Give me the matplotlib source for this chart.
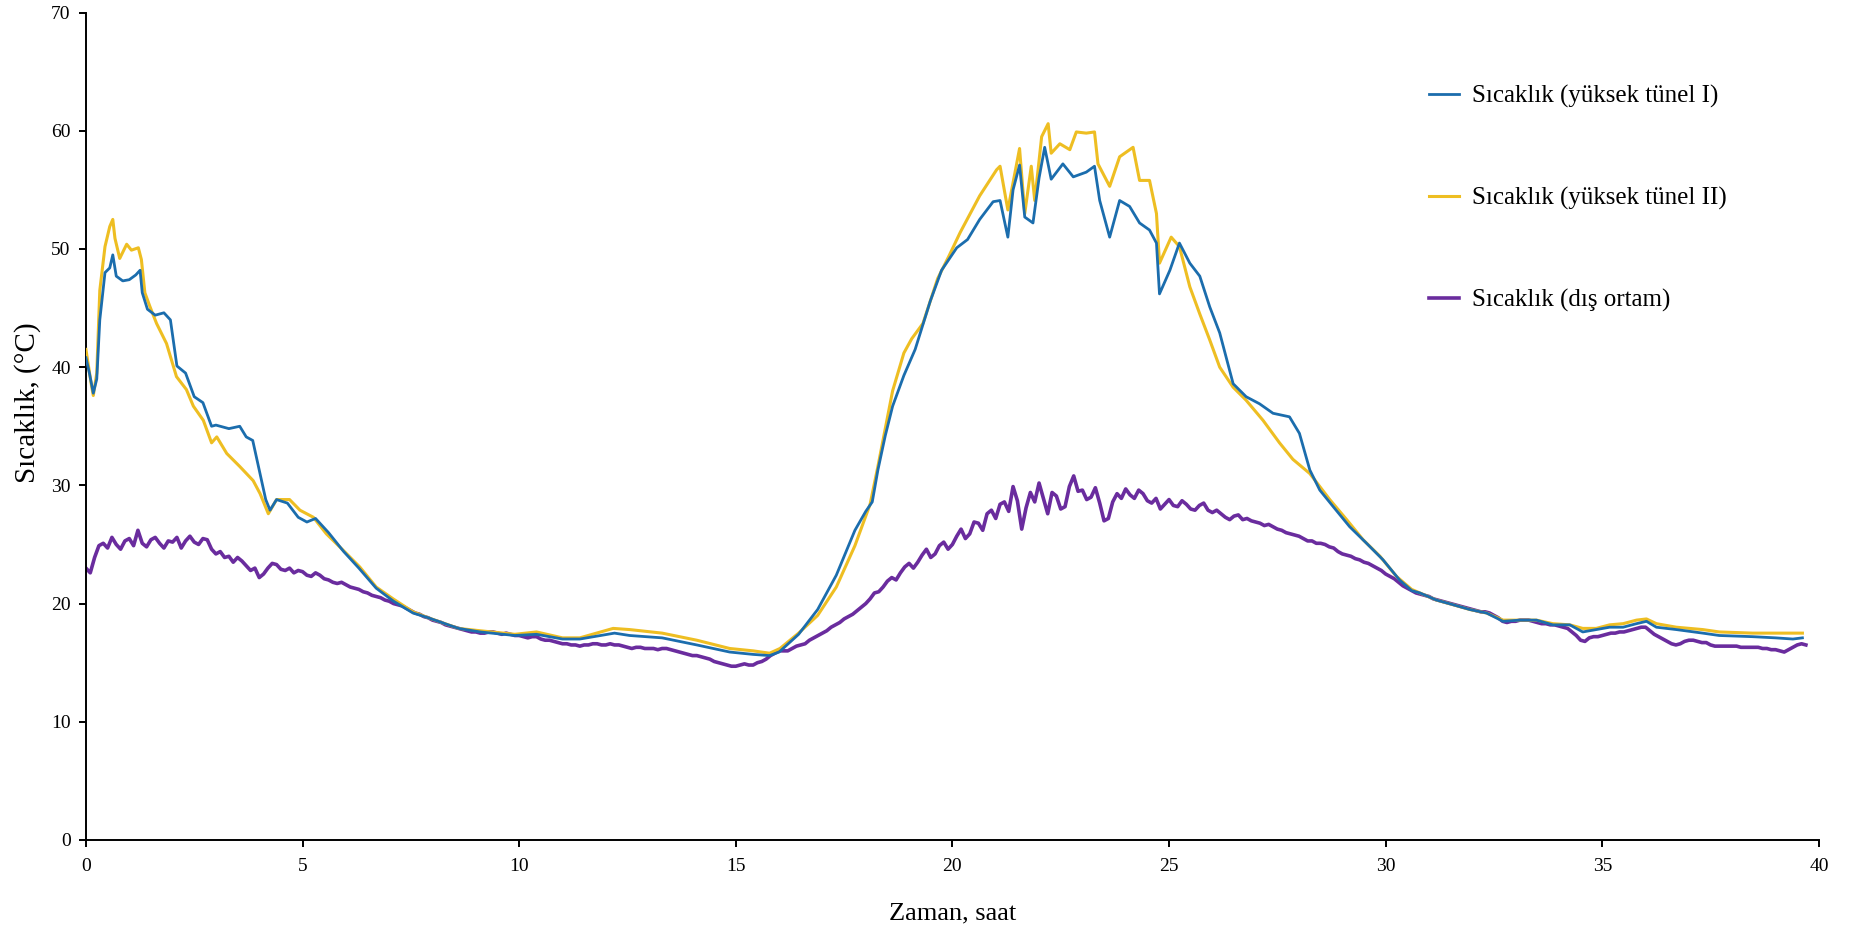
import numpy as np
import matplotlib
matplotlib.use("Agg")
import matplotlib.pyplot as plt

plt.rcParams["font.family"] = ["Liberation Serif", "DejaVu Serif"]

# Sıcaklık (yüksek tünel I)
saat_t1 = [0.0, 0.08, 0.17, 0.25, 0.32, 0.44, 0.55, 0.62, 0.7, 0.85, 1.0, 1.15, 1.25, 1.3, 1.42,
           1.6, 1.8, 1.95, 2.1, 2.3, 2.5, 2.7, 2.9, 3.0, 3.3, 3.55, 3.7, 3.85, 4.0, 4.15, 4.25,
           4.4, 4.65, 4.9, 5.1, 5.3, 5.6, 5.95, 6.3, 6.7, 7.1, 7.55, 7.9, 8.6, 9.1, 9.9, 10.4,
           11.0, 11.4, 12.2, 12.55, 13.3, 14.1, 14.86, 15.4, 15.78, 16.0, 16.45, 16.89, 17.32,
           17.75, 18.0, 18.15, 18.28, 18.45, 18.62, 18.88, 19.14, 19.49, 19.75, 20.1, 20.35,
           20.63, 20.94, 21.1, 21.28, 21.4, 21.55, 21.67, 21.86, 22.0, 22.13, 22.28, 22.55,
           22.79, 23.09, 23.28, 23.4, 23.63, 23.86, 24.09, 24.32, 24.55, 24.71, 24.78, 25.02,
           25.24, 25.48, 25.71, 25.94, 26.17, 26.48, 26.78, 27.09, 27.4, 27.78, 28.01, 28.25,
           28.48, 28.79, 29.17, 29.56, 29.94, 30.32, 30.6, 30.79, 31.17, 31.56, 31.94, 32.33,
           32.71, 33.1, 33.48, 33.86, 34.25, 34.55, 34.86, 35.17, 35.48, 35.79, 36.02, 36.25,
           36.71, 37.32, 37.7, 38.47, 39.0, 39.4, 39.62]
sic_t1 = [40.8, 39.5, 37.8, 39.0, 44.0, 48.0, 48.4, 49.5, 47.7, 47.3, 47.4, 47.8, 48.2, 46.3, 44.9,
          44.4, 44.6, 44.0, 40.1, 39.5, 37.5, 37.0, 35.0, 35.1, 34.8, 35.0, 34.1, 33.8, 31.3, 28.8, 27.9,
          28.8, 28.5, 27.3, 26.9, 27.2, 26.0, 24.4, 23.0, 21.3, 20.2, 19.2, 18.8, 17.9, 17.6, 17.3, 17.4,
          17.0, 17.0, 17.5, 17.3, 17.1, 16.5, 15.9, 15.7, 15.6, 15.9, 17.4, 19.5, 22.4,
          26.2, 27.8, 28.6, 31.3, 34.2, 36.7, 39.3, 41.5, 45.6, 48.2, 50.1, 50.8,
          52.5, 54.0, 54.1, 51.0, 55.0, 57.1, 52.7, 52.2, 56.0, 58.6, 55.9, 57.2,
          56.1, 56.5, 57.0, 54.1, 51.0, 54.1, 53.6, 52.2, 51.6, 50.5, 46.2, 48.2,
          50.5, 48.8, 47.7, 45.1, 42.9, 38.6, 37.5, 36.9, 36.1, 35.8, 34.4, 31.3,
          29.6, 28.2, 26.5, 25.1, 23.7, 22.0, 21.1, 20.9, 20.3, 19.9, 19.5, 19.2,
          18.5, 18.6, 18.6, 18.2, 18.2, 17.6, 17.8, 18.0, 18.0, 18.3, 18.5, 18.0,
          17.8, 17.5, 17.3, 17.2, 17.1, 17.0, 17.1]

# Sıcaklık (yüksek tünel II)
saat_t2 = [0.0, 0.13, 0.17, 0.25, 0.32, 0.44, 0.55, 0.62, 0.67, 0.78, 0.94, 1.05, 1.21, 1.28, 1.36,
           1.48, 1.63, 1.86, 2.09, 2.32, 2.48, 2.71, 2.9, 3.02, 3.25, 3.55, 3.86, 4.02, 4.21, 4.4,
           4.7, 4.94, 5.25, 5.55, 5.94, 6.32, 6.7, 7.09, 7.55, 7.9, 8.6, 9.1, 9.9, 10.4, 11.0,
           11.4, 12.17, 12.55, 13.3, 14.1, 14.86, 15.4, 15.78, 16.02, 16.45, 16.89, 17.32, 17.75,
           18.1, 18.28, 18.45, 18.62, 18.88, 19.06, 19.32, 19.66, 19.92, 20.18, 20.63, 21.02,
           21.1, 21.28, 21.55, 21.67, 21.82, 21.9, 22.06, 22.21, 22.28, 22.48, 22.71, 22.86,
           23.09, 23.28, 23.36, 23.63, 23.86, 24.17, 24.32, 24.55, 24.71, 24.78, 25.05, 25.24,
           25.48, 25.71, 25.94, 26.17, 26.48, 26.78, 27.17, 27.55, 27.86, 28.25, 28.71, 29.1,
           29.48, 29.87, 30.25, 30.6, 30.79, 31.17, 31.56, 31.94, 32.33, 32.71, 33.1, 33.48,
           33.86, 34.25, 34.55, 34.86, 35.17, 35.48, 35.79, 36.02, 36.25, 36.71, 37.32, 37.7,
           38.47, 39.0, 39.62]
sic_t2 = [41.5, 38.4, 37.6, 39.5, 46.5, 50.2, 51.9, 52.5, 50.9, 49.2, 50.4, 49.9, 50.1, 49.1, 46.3,
          45.1, 43.7, 42.0, 39.2, 38.1, 36.7, 35.5, 33.6, 34.1, 32.7, 31.6, 30.4, 29.3, 27.6, 28.8,
          28.8, 27.9, 27.3, 25.9, 24.5, 23.1, 21.4, 20.4, 19.3, 18.8, 17.9, 17.7, 17.4, 17.6, 17.1,
          17.1, 17.9, 17.8, 17.5, 16.9, 16.2, 16.0, 15.8, 16.2, 17.5, 19.0, 21.4, 24.9,
          28.4, 31.6, 34.8, 38.0, 41.2, 42.4, 43.7, 47.5, 49.4, 51.4, 54.5, 56.7,
          57.0, 53.3, 58.5, 53.0, 57.0, 54.1, 59.5, 60.6, 58.1, 58.9, 58.4, 59.9,
          59.8, 59.9, 57.2, 55.3, 57.8, 58.6, 55.8, 55.8, 53.0, 48.8, 51.0, 50.2,
          46.8, 44.5, 42.3, 40.0, 38.3, 37.2, 35.5, 33.6, 32.2, 31.0, 28.8, 27.1,
          25.4, 24.0, 22.3, 21.2, 20.9, 20.3, 19.9, 19.5, 19.2, 18.6, 18.6, 18.6,
          18.3, 18.2, 17.9, 17.9, 18.2, 18.3, 18.6, 18.7, 18.3, 18.0, 17.8, 17.6,
          17.5, 17.5, 17.5]

# Sıcaklık (dış ortam), 0.1 saatte bir okuma, 0 - 39.7 saat
sic_dis = [
    23.0, 22.6, 23.9, 24.9, 25.1, 24.7, 25.6, 25.0, 24.6, 25.3,
    25.5, 24.9, 26.2, 25.1, 24.8, 25.4, 25.6, 25.1, 24.7, 25.3,
    25.2, 25.6, 24.7, 25.3, 25.7, 25.2, 25.0, 25.5, 25.4, 24.6,
    24.2, 24.4, 23.9, 24.0, 23.5, 23.9, 23.6, 23.2, 22.8, 23.0,
    22.2, 22.5, 23.0, 23.4, 23.3, 22.9, 22.8, 23.0, 22.6, 22.8,
    22.7, 22.4, 22.3, 22.6, 22.4, 22.1, 22.0, 21.8, 21.7, 21.8,
    21.6, 21.4, 21.3, 21.2, 21.0, 20.9, 20.7, 20.6, 20.5, 20.3,
    20.2, 20.0, 19.9, 19.8, 19.6, 19.4, 19.2, 19.1, 18.9, 18.8,
    18.6, 18.5, 18.4, 18.2, 18.1, 18.0, 17.9, 17.8, 17.7, 17.6,
    17.6, 17.5, 17.5, 17.6, 17.6, 17.5, 17.4, 17.5, 17.4, 17.3,
    17.3, 17.2, 17.1, 17.2, 17.2, 17.0, 16.9, 16.9, 16.8, 16.7,
    16.6, 16.6, 16.5, 16.5, 16.4, 16.5, 16.5, 16.6, 16.6, 16.5,
    16.5, 16.6, 16.5, 16.5, 16.4, 16.3, 16.2, 16.3, 16.3, 16.2,
    16.2, 16.2, 16.1, 16.2, 16.2, 16.1, 16.0, 15.9, 15.8, 15.7,
    15.6, 15.6, 15.5, 15.4, 15.3, 15.1, 15.0, 14.9, 14.8, 14.7,
    14.7, 14.8, 14.9, 14.8, 14.8, 15.0, 15.1, 15.3, 15.6, 15.8,
    16.0, 16.0, 16.0, 16.2, 16.4, 16.5, 16.6, 16.9, 17.1, 17.3,
    17.5, 17.7, 18.0, 18.2, 18.4, 18.7, 18.9, 19.1, 19.4, 19.7,
    20.0, 20.4, 20.9, 21.0, 21.4, 21.9, 22.2, 22.0, 22.6, 23.1,
    23.4, 23.0, 23.5, 24.1, 24.6, 23.9, 24.2, 24.9, 25.2, 24.6,
    25.0, 25.7, 26.3, 25.5, 25.9, 26.9, 26.8, 26.2, 27.6, 27.9,
    27.2, 28.4, 28.6, 27.8, 29.9, 28.7, 26.3, 28.1, 29.4, 28.6,
    30.2, 28.9, 27.6, 29.4, 29.1, 28.0, 28.2, 29.9, 30.8, 29.5,
    29.6, 28.8, 29.0, 29.8, 28.5, 27.0, 27.2, 28.6, 29.3, 28.9,
    29.7, 29.2, 28.9, 29.6, 29.3, 28.7, 28.5, 28.9, 28.0, 28.4,
    28.8, 28.3, 28.2, 28.7, 28.4, 28.0, 27.9, 28.3, 28.5, 27.9,
    27.7, 27.9, 27.6, 27.3, 27.1, 27.4, 27.5, 27.1, 27.2, 27.0,
    26.9, 26.8, 26.6, 26.7, 26.5, 26.3, 26.2, 26.0, 25.9, 25.8,
    25.7, 25.5, 25.3, 25.3, 25.1, 25.1, 25.0, 24.8, 24.7, 24.4,
    24.2, 24.1, 24.0, 23.8, 23.7, 23.5, 23.4, 23.2, 23.0, 22.8,
    22.5, 22.3, 22.1, 21.8, 21.5, 21.3, 21.1, 20.9, 20.8, 20.7,
    20.6, 20.4, 20.3, 20.2, 20.1, 20.0, 19.9, 19.8, 19.7, 19.6,
    19.5, 19.4, 19.3, 19.3, 19.2, 19.0, 18.8, 18.5, 18.4, 18.5,
    18.5, 18.6, 18.6, 18.6, 18.5, 18.4, 18.3, 18.3, 18.2, 18.2,
    18.1, 18.0, 17.9, 17.6, 17.3, 16.9, 16.8, 17.1, 17.2, 17.2,
    17.3, 17.4, 17.5, 17.5, 17.6, 17.6, 17.7, 17.8, 17.9, 18.0,
    18.0, 17.7, 17.4, 17.2, 17.0, 16.8, 16.6, 16.5, 16.6, 16.8,
    16.9, 16.9, 16.8, 16.7, 16.7, 16.5, 16.4, 16.4, 16.4, 16.4,
    16.4, 16.4, 16.3, 16.3, 16.3, 16.3, 16.3, 16.2, 16.2, 16.1,
    16.1, 16.0, 15.9, 16.1, 16.3, 16.5, 16.6, 16.5]
saat_dis = np.arange(len(sic_dis)) * 0.1

etiketler = ["Sıcaklık (yüksek tünel I)", "Sıcaklık (yüksek tünel II)", "Sıcaklık (dış ortam)"]
renkler = ["#1B6DAD", "#EEBE22", "#6A2C9E"]

fig = plt.figure(figsize=(18.56, 9.38), dpi=100)
ax = fig.add_axes([0.0463, 0.1045, 0.9337, 0.8821])

ax.plot(saat_dis, sic_dis, color=renkler[2], lw=2.6, label=etiketler[2], zorder=2)
ax.plot(saat_t2, sic_t2, color=renkler[1], lw=2.2, label=etiketler[1], zorder=3)
ax.plot(saat_t1, sic_t1, color=renkler[0], lw=2.0, label=etiketler[0], zorder=4)

ax.set_xlim(0, 40)
ax.set_ylim(0, 70)
ax.set_xticks(range(0, 41, 5))
ax.set_yticks(range(0, 71, 10))
ax.spines["top"].set_visible(False)
ax.spines["right"].set_visible(False)
for s in ("left", "bottom"):
    ax.spines[s].set_linewidth(1.4)
ax.tick_params(direction="out", length=5, width=1.4, labelsize=14)
ax.tick_params(axis="x", pad=8)
ax.tick_params(axis="y", pad=6)

ax.set_xlabel("Zaman, saat", fontsize=19, labelpad=20)
ax.set_ylabel("Sıcaklık, (°C)", fontsize=21)
ax.yaxis.set_label_coords(-0.026, 0.529)

h, l = ax.get_legend_handles_labels()
order = [2, 1, 0]
fig.legend([h[i] for i in order], [l[i] for i in order],
           loc="upper left", bbox_to_anchor=(0.758, 0.933), frameon=False,
           fontsize=18, labelspacing=3.15, handlelength=1.2, handletextpad=0.5)

fig.savefig("out.png", dpi=100, facecolor="white")
